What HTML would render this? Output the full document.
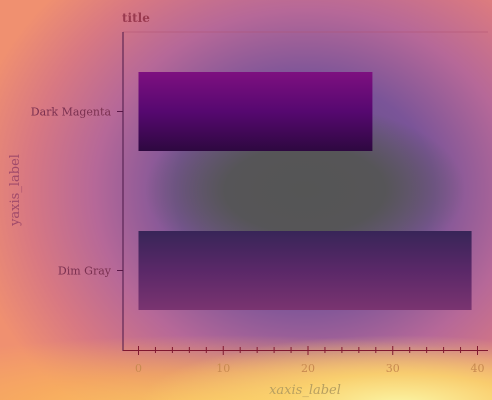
<!DOCTYPE html>
<html><head><meta charset="utf-8"><style>
body{margin:0;width:492px;height:400px;overflow:hidden;font-family:"DejaVu Serif","Liberation Serif",serif}
#bg{position:absolute;left:0;top:0;width:492px;height:400px;
background:
radial-gradient(ellipse 160px 85px at 305px 190px, rgba(85,85,85,1) 0%, rgba(85,85,85,0.95) 50%, rgba(90,80,120,0) 100%),
radial-gradient(ellipse 260px 70px at 400px 405px, rgba(250,245,165,1) 0%, rgba(252,215,110,0.85) 45%, rgba(250,180,100,0) 100%),
radial-gradient(ellipse 420px 75px at 220px 410px, rgba(252,205,95,0.95) 0%, rgba(250,180,90,0.7) 50%, rgba(245,160,100,0) 100%),
radial-gradient(ellipse 340px 290px at 305px 190px, #5a5878 0%, #7a5498 38%, #b66898 62%, #d87882 82%, #f09070 100%);}
</style></head><body>
<div id="bg"></div>
<svg id="chart" width="492" height="400" style="position:absolute;left:0;top:0">
<defs>
<linearGradient id="g0" x1="0" y1="0" x2="0" y2="1"><stop offset="0" stop-color="#7e1080"/><stop offset="0.5" stop-color="#560870"/><stop offset="1" stop-color="#2e0840"/></linearGradient>
<linearGradient id="g1" x1="0" y1="0" x2="0" y2="1"><stop offset="0" stop-color="#382558"/><stop offset="0.5" stop-color="#5a2868"/><stop offset="1" stop-color="#7a3470"/></linearGradient>
</defs>
<text x="122" y="22" font-size="12" font-weight="bold" fill="#9a3a50">title</text>
<line x1="123" y1="32" x2="488" y2="32" stroke="#b05070" stroke-width="0.6"/>
<g id="bars"></g>
<line x1="123" y1="32" x2="123" y2="351" stroke="#4a1848" stroke-width="1"/>
<line x1="123" y1="350.5" x2="488" y2="350.5" stroke="#801830" stroke-width="1"/>
<g id="xticks"></g>
<g id="yticks"></g>
<text x="305" y="394" font-size="13" font-style="italic" fill="#b8a060" text-anchor="middle">xaxis_label</text>
<text x="19" y="190" font-size="13" fill="#a04a6a" text-anchor="middle" transform="rotate(-90 19 190)">yaxis_label</text>
</svg>
<script>
const categories=["Dark Magenta","Dim Gray"];
const values=[27.6,39.3];
const xTicks=[0,10,20,30,40];
const fills=["url(#g0)","url(#g1)"];
const NS="http://www.w3.org/2000/svg";
const x0=138.5,x1=477.5,xmax=40;
function xs(v){return x0+(x1-x0)*v/xmax;}
const yTop=32,yBot=350,band=(yBot-yTop)/categories.length;
function yc(i){return yTop+band*(i+0.5);}
const bars=document.getElementById('bars');
categories.forEach((c,i)=>{
 const r=document.createElementNS(NS,'rect');
 r.setAttribute('x',xs(0));r.setAttribute('y',yc(i)-39.5);
 r.setAttribute('width',xs(values[i])-xs(0));r.setAttribute('height',79);
 r.setAttribute('fill',fills[i]);
 
 
 bars.appendChild(r);
 const t=document.createElementNS(NS,'line');
 t.setAttribute('x1',117);t.setAttribute('x2',123);t.setAttribute('y1',yc(i));t.setAttribute('y2',yc(i));
 t.setAttribute('stroke','#5a1848');
 
 
 document.getElementById('yticks').appendChild(t);
 const l=document.createElementNS(NS,'text');
 l.setAttribute('x',111);l.setAttribute('y',yc(i)+4);l.setAttribute('text-anchor','end');
 l.setAttribute('font-size','11');l.setAttribute('fill','#7a3050');
 l.textContent=c;
 
 
 document.getElementById('yticks').appendChild(l);
});
const xt=document.getElementById('xticks');
for(let v=0;v<=xmax;v+=2){
 const major=v%10===0;
 const t=document.createElementNS(NS,'line');
 t.setAttribute('x1',xs(v));t.setAttribute('x2',xs(v));
 t.setAttribute('y1',major?346:347);t.setAttribute('y2',major?355:353);
 t.setAttribute('stroke','#801830');
 
 
 xt.appendChild(t);
}
xTicks.forEach(v=>{
 const l=document.createElementNS(NS,'text');
 l.setAttribute('x',xs(v));l.setAttribute('y',372);l.setAttribute('text-anchor','middle');
 l.setAttribute('font-size','11');l.setAttribute('fill','#c88a50');
 l.textContent=v;
 
 
 xt.appendChild(l);
});
</script>
</body></html>
